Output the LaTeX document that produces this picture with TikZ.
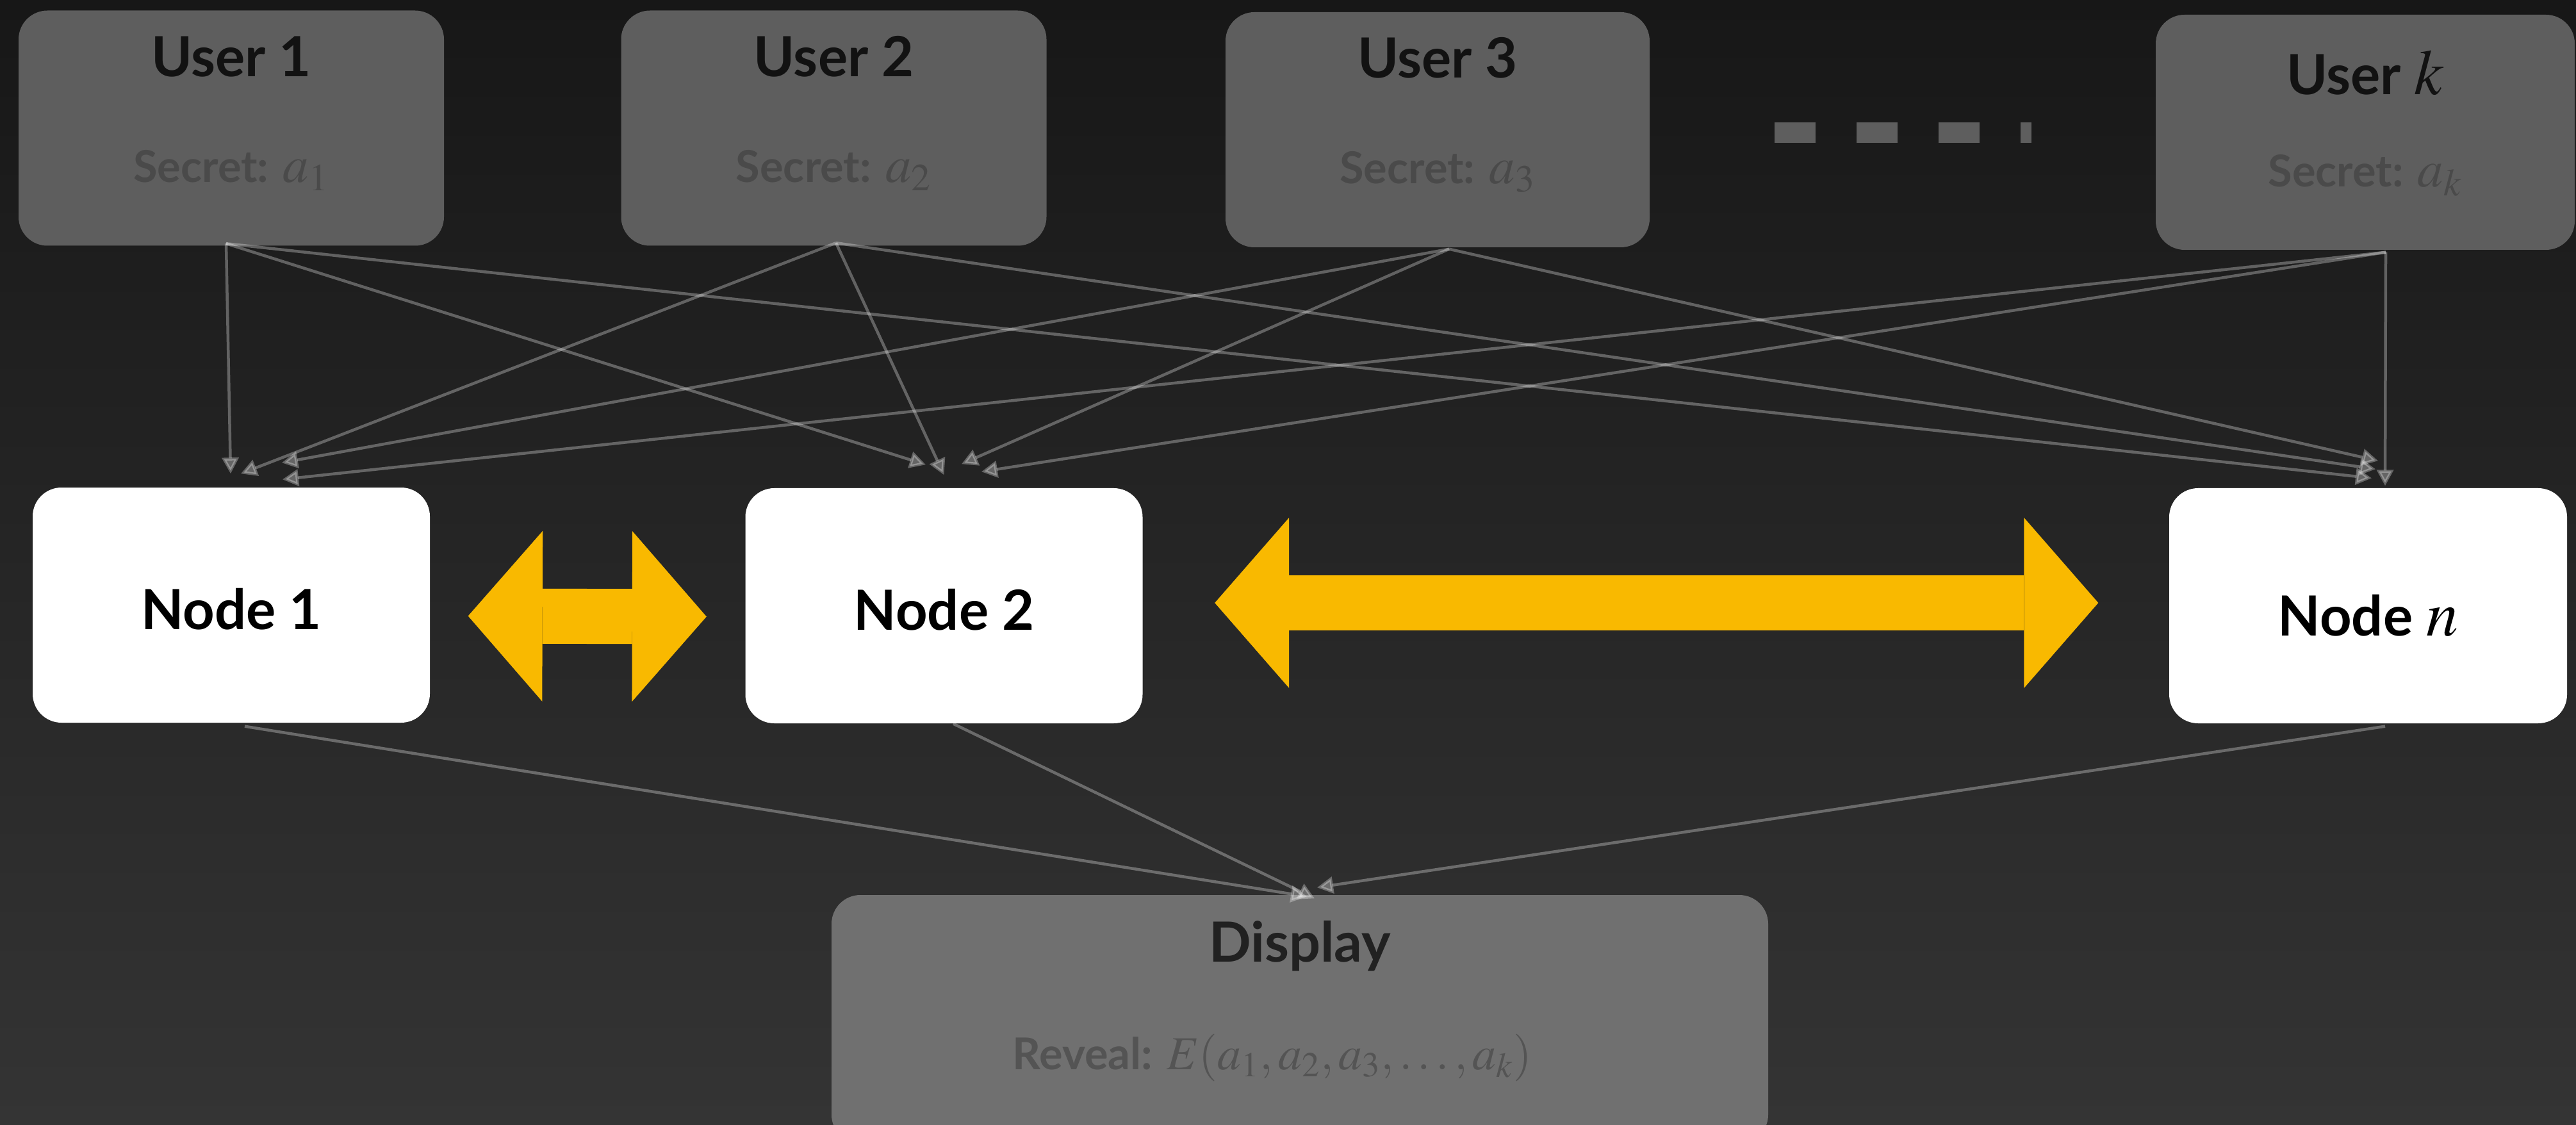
\documentclass[tikz,border=0pt]{standalone}
\usepackage{mathptmx}
\usepackage{fontspec}
\setmainfont{Lato}
\usetikzlibrary{arrows.meta}

\definecolor{bgtop}{HTML}{171717}
\definecolor{bgbottom}{HTML}{343434}
\definecolor{usergray}{HTML}{5E5E5E}
\definecolor{displaygray}{HTML}{707070}
\definecolor{secretgray}{HTML}{4A4A4A}
\definecolor{swapyellow}{HTML}{F9B900}

% math in the labels is set a bit larger than the sans text
\newcommand{\titlevar}[1]{{\fontsize{28.5}{32}\selectfont$#1$}}
\newcommand{\secretvar}[1]{{\fontsize{23}{26}\selectfont$#1$}}
\newcommand{\revealvar}[1]{{\fontsize{21}{24}\selectfont$#1$}}

\begin{document}
\begin{tikzpicture}[
    box/.style={rounded corners=0.45cm, inner sep=0pt},
    userbox/.style={box, fill=usergray, minimum width=6.64cm, minimum height=3.67cm},
    nodebox/.style={box, fill=white, minimum width=6.2cm, minimum height=3.67cm},
    title/.style={anchor=base, font=\bfseries\fontsize{24.6}{28}\selectfont, text=black!93},
    secret/.style={anchor=base, font=\bfseries\fontsize{19.5}{22}\selectfont, text=secretgray},
    share/.style={white, opacity=0.3, line width=0.045cm, -{Triangle[length=0.25cm, width=0.26cm]}},
    swap/.style={swapyellow, line width=0.86cm,
        {Triangle[length=1.16cm, width=2.66cm, line width=0pt]}-{Triangle[length=1.16cm, width=2.66cm, line width=0pt]}}
]
% Background
\clip (0,0) rectangle (40.21,-17.56);
\shade[top color=bgtop, bottom color=bgbottom] (0,0) rectangle (40.21,-17.56);

% Users
\node[userbox] (user1) at (3.61,-2.00) {};
\node[userbox] (user2) at (13.015,-2.00) {};
\node[userbox, minimum width=6.62cm] (user3) at (22.44,-2.025) {};
\node[userbox, minimum width=6.54cm] (userk) at (36.92,-2.065) {};

\node[title] (user1title) at (user1 |- 0,-1.20) {User 1};
\node[title] (user2title) at (user2 |- 0,-1.20) {User 2};
\node[title] (user3title) at (user3 |- 0,-1.22) {User 3};
\node[title] (userktitle) at (userk |- 0,-1.48) {User \titlevar{k}};

\node[secret] (user1secret) at (user1 |- 0,-2.85) {Secret: \secretvar{a_1}};
\node[secret] (user2secret) at (user2 |- 0,-2.85) {Secret: \secretvar{a_2}};
\node[secret] (user3secret) at (user3 |- 0,-2.87) {Secret: \secretvar{a_3}};
\node[secret] (userksecret) at (userk |- 0,-2.92) {Secret: \secretvar{a_k}};

% More users
\draw[usergray, line width=0.32cm, dash pattern=on 0.64cm off 0.64cm] (27.70,-2.07) -- (31.71,-2.07);

% Nodes
\node[nodebox] (node1) at (3.61,-9.445) {};
\node[nodebox] (node2) at (14.735,-9.455) {};
\node[nodebox, minimum width=6.21cm] (noden) at (36.965,-9.455) {};

\node[title, text=black] (node1title) at (node1 |- 0,-9.82) {Node 1};
\node[title, text=black] (node2title) at (node2 |- 0,-9.83) {Node 2};
\node[title, text=black] (nodentitle) at (noden |- 0,-9.92) {Node \titlevar{n}};

% Display
\node[box, fill=displaygray, minimum width=14.62cm, minimum height=3.88cm] (display) at (20.29,-15.91) {};
\node[title, text=black!87] (displaytitle) at (display |- 0,-15.01) {Display};
\node[secret, text=black!67] (displayreveal) at (19.86,-16.69) {Reveal: \revealvar{E(a_1, a_2, a_3, \ldots, a_k)}};

% Shares sent to every node
\draw[share] ([shift={(-0.08,0.04)}]user1.south) -- ([shift={(-0.01,0.21)}]node1.north);
\draw[share] ([shift={(-0.08,0.04)}]user1.south) -- ([shift={(-0.285,0.36)}]node2.north);
\draw[share] ([shift={(-0.08,0.04)}]user1.south) -- ([shift={(0.055,0.15)}]noden.north);

\draw[share] ([shift={(0.035,0.05)}]user2.south) -- ([shift={(0.15,0.21)}]node1.north);
\draw[share] ([shift={(0.035,0.05)}]user2.south) -- ([shift={(0,0.20)}]node2.north);
\draw[share] ([shift={(0.035,0.05)}]user2.south) -- ([shift={(0.115,0.29)}]noden.north);

\draw[share] ([shift={(0.18,-0.02)}]user3.south) -- ([shift={(0.79,0.38)}]node1.north);
\draw[share] ([shift={(0.18,-0.02)}]user3.south) -- ([shift={(0.275,0.37)}]node2.north);
\draw[share] ([shift={(0.18,-0.02)}]user3.south) -- ([shift={(0.155,0.42)}]noden.north);

\draw[share] ([shift={(0.32,-0.03)}]userk.south) -- ([shift={(0.80,0.12)}]node1.north);
\draw[share] ([shift={(0.32,-0.03)}]userk.south) -- ([shift={(0.585,0.25)}]node2.north);
\draw[share] ([shift={(0.32,-0.03)}]userk.south) -- ([shift={(0.265,0.03)}]noden.north);

% Nodes talk to each other
\draw[swap] ([shift={(0.59,-0.17)}]node1.east) -- ([shift={(-0.60,-0.17)}]node2.west);
\draw[swap] ([shift={(1.12,0.045)}]node2.east) -- ([shift={(-1.10,0.045)}]noden.west);

% Results to the display
\draw[share] ([shift={(0.21,-0.05)}]node1.south) -- ([shift={(0.11,-0.03)}]display.north);
\draw[share] ([shift={(0.145,0)}]node2.south) -- ([shift={(0.23,-0.06)}]display.north);
\draw[share] ([shift={(0.265,-0.04)}]noden.south) -- ([shift={(0.27,0.11)}]display.north);
\end{tikzpicture}
\end{document}
